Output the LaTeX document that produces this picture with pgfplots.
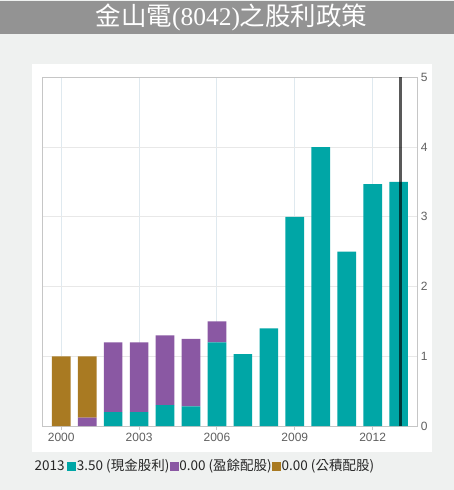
\documentclass[border=0pt]{standalone}
\usepackage{pgfplots}
\pgfplotsset{compat=1.18}
\usepackage{fontspec}
\setmainfont{Liberation Sans}
\newfontfamily\cjk{Noto Sans CJK TC}
\newfontfamily\serifnum{Liberation Serif}

\definecolor{pagebg}{HTML}{EFF1F0}
\definecolor{titlebar}{HTML}{939393}
\definecolor{cash}{HTML}{00A6A6}
\definecolor{stock}{HTML}{8A58A3}
\definecolor{capital}{HTML}{A97A22}
\definecolor{frame}{HTML}{C6C6C6}
\definecolor{xgrid}{HTML}{DFE9EF}
\definecolor{ygrid}{HTML}{E8E8E8}
\definecolor{ticktext}{HTML}{606060}

% yearly dividends: cash, stock from earnings, stock from capital reserve
\pgfplotstableread{
year  cash  stock  capital
2000  0     0      1.00
2001  0     0.12   0.88
2002  0.20  1.00   0
2003  0.20  1.00   0
2004  0.30  1.00   0
2005  0.28  0.97   0
2006  1.20  0.30   0
2007  1.03  0      0
2008  1.40  0      0
2009  3.00  0      0
2010  4.00  0      0
2011  2.50  0      0
2012  3.47  0      0
2013  3.50  0      0
}\divtable

\begin{document}
\begin{tikzpicture}
  % page and title
  \fill[pagebg] (0pt,0pt) rectangle (454pt,-490pt);
  \fill[titlebar] (0pt,-1pt) rectangle (454pt,-34pt);
  \node[text=white, font=\cjk\fontsize{25.5}{27}\selectfont] at (231.5pt,-17.5pt)
    {金山電{\serifnum(8042)}之股利政策};
  \fill[white] (32pt,-64pt) rectangle (432pt,-452pt);

\begin{axis}[
    at={(42.3pt,-426pt)}, anchor=south west,
    scale only axis,
    width=375pt, height=348.7pt,
    ybar stacked,
    bar width=0.72,
    xmin=1999.27, xmax=2013.72,
    ymin=0, ymax=5,
    xtick={2000,2003,...,2012},
    ytick={0,1,...,5},
    yticklabel pos=right,
    x tick label style={/pgf/number format/1000 sep={}},
    tick label style={font=\fontsize{12}{14}\selectfont, text=ticktext},
    /pgf/number format/assume math mode=true,
    xtick pos=bottom, xtick align=outside,
    major tick length=4pt,
    ytick style={draw=none},
    xtick style={frame, line width=1pt},
    axis line style={frame, line width=1pt},
    xmajorgrids, ymajorgrids,
    x grid style={xgrid, line width=1pt},
    y grid style={ygrid, line width=1pt},
    legend columns=-1,
    legend style={
        at={(-0.022,-0.1147)}, anchor=west,
        draw=none, fill=none, inner sep=0pt,
        font=\cjk\fontsize{13.5}{15}\selectfont, text=black!85,
        nodes={inner sep=0.5pt},
        /tikz/every even column/.append style={column sep=0pt},
    },
    sq legend/.style={legend image code/.code={
        \fill[##1] (0pt,-4.5pt) rectangle (9pt,4.5pt);}},
]
    \addlegendimage{empty legend}
    \addlegendentry{2013\,}
    \addplot[fill=cash, draw=none, sq legend] table[x=year, y=cash] {\divtable};
    \addlegendentry{3.50 (現金股利)}
    \addplot[fill=stock, draw=none, sq legend] table[x=year, y=stock] {\divtable};
    \addlegendentry{0.00 (盈餘配股)}
    \addplot[fill=capital, draw=none, sq legend] table[x=year, y=capital] {\divtable};
    \addlegendentry{0.00 (公積配股)}
    \coordinate (hovtop) at (axis cs:2013.07,5);
    \coordinate (hovbot) at (axis cs:2013.07,0);
\end{axis}
  % hover marker on 2013, drawn over the bars
  \draw[black, opacity=0.65, line width=2.7pt] (hovbot) -- (hovtop);
\end{tikzpicture}
\end{document}
